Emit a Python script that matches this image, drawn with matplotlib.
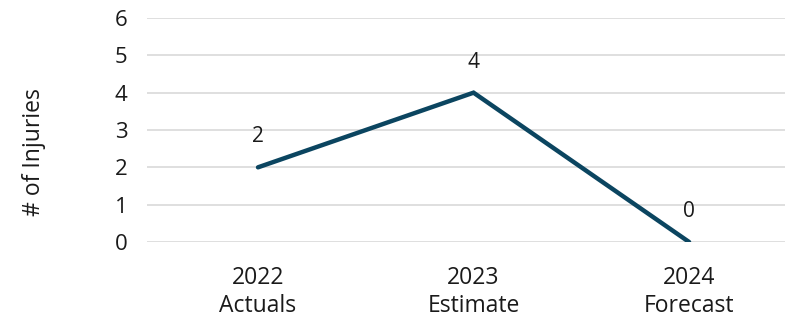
import matplotlib.pyplot as plt

years = ["2022", "2023", "2024"]
kinds = ["Actuals", "Estimate", "Forecast"]
injuries = [2, 4, 0]
yticks = [0, 1, 2, 3, 4, 5, 6]

plt.rcParams['font.family'] = ['Open Sans', 'DejaVu Sans']

fig = plt.figure(figsize=(7.85, 3.22), dpi=100)
ax = fig.add_axes([147 / 785, 1 - 242 / 322, 638 / 785, 224 / 322])

x = list(range(len(years)))
ax.plot(x, injuries, color="#0B4560", lw=3.2, solid_capstyle="round",
        solid_joinstyle="miter", zorder=3)

for xi, v in zip(x, injuries):
    ax.annotate(str(v), (xi, v), xytext=(0, 22), textcoords="offset points",
                ha="center", va="center", fontsize=15, color="#1a1a1a")

ax.set_xlim(-0.515, 2.445)
ax.set_ylim(0, 6)
ax.set_yticks(yticks)
ax.set_xticks(x)
ax.set_xticklabels([f"{y}\n{k}" for y, k in zip(years, kinds)],
                   fontsize=16.5, color="#1a1a1a", linespacing=1.25)
ax.tick_params(axis="y", labelsize=16, labelcolor="#1a1a1a", length=0, pad=14)
ax.tick_params(axis="x", length=0, pad=17)

ax.grid(axis="y", color="#D9D9D9", lw=1.2)
ax.set_axisbelow(True)
for s in ax.spines.values():
    s.set_visible(False)

ax.set_ylabel("# of Injuries", fontsize=16.5, color="#1a1a1a")
ax.yaxis.set_label_coords((46 - 147) / 638, 0.40)

fig.savefig("out.png", dpi=100)
